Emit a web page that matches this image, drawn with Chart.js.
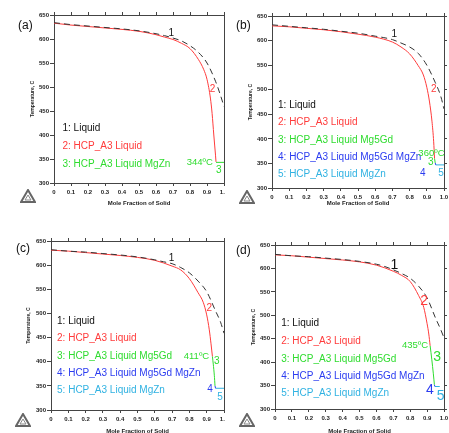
<!DOCTYPE html>
<html>
<head>
<meta charset="utf-8">
<script src="https://cdn.jsdelivr.net/npm/chart.js@4.4.1/dist/chart.umd.min.js"></script>
<style>
html, body { margin: 0; padding: 0; background: #fff; }
body { position: relative; width: 449px; height: 433px; overflow: hidden; font-family: "Liberation Sans", Arial, sans-serif; }
.panel { position: absolute; }
.panel canvas { position: absolute; left: 0; top: 0; }
.tag { position: absolute; font-size: 12px; color: #111; line-height: 12px; }
.logo { position: absolute; width: 16px; height: 14px; }
</style>
</head>
<body>
<div class="panel" style="left:0;top:0;width:225px;height:215px"><canvas id="chartA" width="225" height="215"></canvas></div>
<div class="panel" style="left:225px;top:0;width:224px;height:215px"><canvas id="chartB" width="224" height="215"></canvas></div>
<div class="panel" style="left:0;top:215px;width:225px;height:225px"><canvas id="chartC" width="225" height="225"></canvas></div>
<div class="panel" style="left:225px;top:215px;width:224px;height:225px"><canvas id="chartD" width="224" height="225"></canvas></div>

<div class="tag" style="left:18px;top:19px">(a)</div>
<div class="tag" style="left:236px;top:19px">(b)</div>
<div class="tag" style="left:16px;top:242px">(c)</div>
<div class="tag" style="left:236px;top:244px">(d)</div>

<svg class="logo" style="left:20px;top:189px" viewBox="0 0 16 14"><polygon points="8,1 15,13 1,13" fill="none" stroke="#666" stroke-width="2"/><polygon points="8,6 11,11 5,11" fill="none" stroke="#888" stroke-width="1"/></svg>
<svg class="logo" style="left:239px;top:190px" viewBox="0 0 16 14"><polygon points="8,1 15,13 1,13" fill="none" stroke="#666" stroke-width="2"/><polygon points="8,6 11,11 5,11" fill="none" stroke="#888" stroke-width="1"/></svg>
<svg class="logo" style="left:15px;top:413px" viewBox="0 0 16 14"><polygon points="8,1 15,13 1,13" fill="none" stroke="#666" stroke-width="2"/><polygon points="8,6 11,11 5,11" fill="none" stroke="#888" stroke-width="1"/></svg>
<svg class="logo" style="left:239px;top:413px" viewBox="0 0 16 14"><polygon points="8,1 15,13 1,13" fill="none" stroke="#666" stroke-width="2"/><polygon points="8,6 11,11 5,11" fill="none" stroke="#888" stroke-width="1"/></svg>

<script>
// axis ranges
const fracRange = [0, 1];
const tempRange = [300, 650];

// curve 1: Liquid (dashed), same solid-fraction grid in every panel
const liquidFrac = [0, 0.1, 0.2, 0.3, 0.4, 0.5, 0.6, 0.65, 0.7, 0.75, 0.8, 0.85, 0.9, 0.95, 0.98, 1.0];
const liquidTempA = [634, 630, 627, 624, 621, 617, 611, 607, 602, 596, 586, 572, 550, 512, 482, 459];
const liquidTempB = [632, 629, 626, 623, 619, 615, 609, 606, 602, 595, 587, 574, 550, 514, 488, 461];
const liquidTempC = [632, 629, 627, 624, 621, 617, 611, 607, 603, 595, 584, 567, 545, 506, 482, 459];
const liquidTempD = [630, 627, 625, 622, 619, 615, 609, 604, 597, 589, 579, 562, 537, 494, 470, 452];

// curve 2: HCP_A3 Liquid
const hcpFracA = [0, 0.1, 0.2, 0.3, 0.4, 0.5, 0.6, 0.65, 0.7, 0.75, 0.8, 0.85, 0.88, 0.9, 0.92, 0.93, 0.94, 0.95, 0.953];
const hcpTempA = [633, 629, 626, 623, 620, 616, 609, 604, 599, 591, 580, 557, 537, 516, 477, 445, 400, 358, 344];
const hcpFracB = [0, 0.1, 0.2, 0.3, 0.4, 0.5, 0.6, 0.7, 0.75, 0.8, 0.85, 0.88, 0.9, 0.915, 0.93, 0.94, 0.945];
const hcpTempB = [630, 628, 625, 622, 618, 613, 607, 597, 587, 573, 549, 530, 505, 477, 436, 394, 360];
const hcpFracC = [0, 0.1, 0.2, 0.3, 0.4, 0.5, 0.6, 0.7, 0.75, 0.8, 0.85, 0.88, 0.9, 0.915, 0.925, 0.933];
const hcpTempC = [631, 629, 626, 623, 620, 616, 610, 598, 590, 572, 543, 523, 497, 466, 437, 411];
const hcpFracD = [0, 0.1, 0.2, 0.3, 0.4, 0.5, 0.6, 0.7, 0.75, 0.8, 0.85, 0.88, 0.9, 0.91, 0.918];
const hcpTempD = [629, 627, 624, 621, 618, 614, 607, 594, 585, 572, 542, 517, 482, 460, 435];

// curve 3: HCP_A3 Liquid Mg5Gd (MgZn in panel a)
const mgznFracA = [0.953, 1.0];
const mgznTempA = [343, 343];
const mg5gdFracB = [0.945, 0.949];
const mg5gdTempB = [360, 351];
const mg5gdFracC = [0.933, 0.938, 0.944, 0.948];
const mg5gdTempC = [411, 395, 372, 350];
const mg5gdFracD = [0.918, 0.928, 0.937, 0.943];
const mg5gdTempD = [435, 405, 375, 352];

// curve 4: HCP_A3 Liquid Mg5Gd MgZn
const ternFracB = [0.949, 0.952];
const ternTempB = [351, 347];
const ternFracC = [0.948, 0.951];
const ternTempC = [350, 345];
const ternFracD = [0.943, 0.946];
const ternTempD = [352, 348];

// curve 5: HCP_A3 Liquid MgZn
const mgznFracB = [0.952, 1.0];
const mgznTempB = [347, 347];
const mgznFracC = [0.951, 1.0];
const mgznTempC = [345, 345];
const mgznFracD = [0.946, 0.975];
const mgznTempD = [348, 348];

const legendNames = ['1: Liquid', '2: HCP_A3 Liquid', '3: HCP_A3 Liquid Mg5Gd', '4: HCP_A3 Liquid Mg5Gd MgZn', '5: HCP_A3 Liquid MgZn'];
const legendNamesA = ['1: Liquid', '2: HCP_A3 Liquid', '3: HCP_A3 Liquid MgZn'];

const black = '#111', red = '#ff3b3b', green = '#2fdc2f', blue = '#2b3cf0', cyan = '#30b2e2';
const colorsA = [black, red, green];
const colors5 = [black, red, green, blue, cyan];
const FONT = '"Liberation Sans", Arial, sans-serif';

// draws text at data coordinates (curve labels, legend)
const notesPlugin = {
    id: 'notes',
    afterDatasetsDraw(chart, args, opts) {
        const ctx = chart.ctx;
        const sx = chart.scales.x, sy = chart.scales.y;
        ctx.save();
        (opts.items || []).forEach(n => {
            ctx.font = n.size + 'px ' + FONT;
            ctx.fillStyle = n.color;
            ctx.textAlign = n.align || 'center';
            ctx.textBaseline = 'middle';
            ctx.fillText(n.text, sx.getPixelForValue(n.x), sy.getPixelForValue(n.y));
        });
        ctx.restore();
    }
};

function line(frac, temp, color, dash) {
    return {
        data: frac.map((f, i) => ({ x: f, y: temp[i] })),
        borderColor: color,
        borderWidth: 1,
        borderDash: dash || [],
        pointRadius: 0,
        cubicInterpolationMode: 'monotone',
        fill: false
    };
}

function legendItems(names, colors, x, temps, size) {
    return names.map((t, i) => ({ text: t, x: x, y: temps[i], color: colors[i], size: size, align: 'left' }));
}

function makeChart(id, g, datasets, items) {
    const tickFont = { family: FONT, size: 6, weight: 'bold' };
    const titleFont = { family: FONT, size: 6, weight: 'bold', lineHeight: 1 };
    const frame = '#444';
    return new Chart(document.getElementById(id), {
        type: 'line',
        data: { datasets: datasets },
        plugins: [notesPlugin],
        options: {
            responsive: false,
            animation: false,
            layout: { padding: { left: 0, top: g.top - 3, right: g.padRight, bottom: 0 } },
            plugins: { legend: { display: false }, tooltip: { enabled: false }, notes: { items: items } },
            scales: {
                x: {
                    type: 'linear', position: 'bottom', min: fracRange[0], max: fracRange[1],
                    ticks: { stepSize: 0.1, autoSkip: false, maxRotation: 0, padding: 3, color: '#222', font: tickFont,
                        callback: v => (Math.abs(v) < 1e-9 ? '0' : v.toFixed(1)) },
                    grid: { drawOnChartArea: false, tickLength: 3, color: frame },
                    border: { color: frame },
                    title: { display: true, text: 'Mole Fraction of Solid', color: '#222', font: titleFont, padding: { top: 0, bottom: g.xTitlePad } },
                    afterFit: s => { s.height = g.xHeight; s.paddingLeft = 0; s.paddingRight = 0; }
                },
                x2: {
                    type: 'linear', position: 'top', min: fracRange[0], max: fracRange[1],
                    ticks: { stepSize: 0.1, display: false },
                    grid: { drawOnChartArea: false, tickLength: 3, color: frame },
                    border: { color: frame },
                    afterFit: s => { s.height = 3; s.paddingLeft = 0; s.paddingRight = 0; }
                },
                y: {
                    type: 'linear', position: 'left', min: tempRange[0], max: tempRange[1],
                    ticks: { stepSize: 50, padding: 1, color: '#222', font: tickFont },
                    grid: { drawOnChartArea: false, tickLength: 4, color: frame },
                    border: { color: frame },
                    title: { display: true, text: 'Temperature, C', color: '#222', font: { family: FONT, size: 5, weight: 'bold', lineHeight: 1 }, padding: { top: g.yTitlePad, bottom: 0 } },
                    afterFit: s => { s.width = g.left; s.paddingTop = 0; s.paddingBottom = 0; }
                },
                y2: {
                    type: 'linear', position: 'right', min: tempRange[0], max: tempRange[1],
                    ticks: { stepSize: 50, display: false },
                    grid: { drawOnChartArea: false, tickLength: 3, color: frame },
                    border: { color: frame },
                    afterFit: s => { s.width = g.y2Width; s.paddingTop = 0; s.paddingBottom = 0; }
                }
            }
        }
    });
}

// panel (a)
makeChart('chartA',
    { left: 54, top: 15, padRight: 0, y2Width: 1, xHeight: 32, xTitlePad: 8.5, yTitlePad: 30.5 },
    [
        line(liquidFrac, liquidTempA, '#333', [6, 4]),
        line(hcpFracA, hcpTempA, red),
        line(mgznFracA, mgznTempA, green)
    ],
    legendItems(legendNamesA, colorsA, 0.05, [414, 377, 340], 10).concat([
        { text: '1', x: 0.69, y: 612, color: black, size: 10 },
        { text: '2', x: 0.932, y: 495, color: red, size: 10 },
        { text: '344\u00baC', x: 0.935, y: 342, color: green, size: 9.5, align: 'right' },
        { text: '3', x: 0.969, y: 327, color: green, size: 10 }
    ])
);

// panel (b)
makeChart('chartB',
    { left: 47, top: 16, padRight: 2, y2Width: 3, xHeight: 27, xTitlePad: 9, yTitlePad: 23.2 },
    [
        line(liquidFrac, liquidTempB, '#333', [6, 4]),
        line(hcpFracB, hcpTempB, red),
        line(mg5gdFracB, mg5gdTempB, green),
        line(ternFracB, ternTempB, blue),
        line(mgznFracB, mgznTempB, cyan)
    ],
    legendItems(legendNames, colors5, 0.035, [468, 433, 398, 363, 328], 10).concat([
        { text: '1', x: 0.711, y: 612, color: black, size: 10 },
        { text: '2', x: 0.94, y: 500, color: red, size: 10 },
        { text: '360\u00baC', x: 0.927, y: 371, color: green, size: 9.5 },
        { text: '3', x: 0.923, y: 352, color: green, size: 10 },
        { text: '4', x: 0.876, y: 331, color: blue, size: 10 },
        { text: '5', x: 0.983, y: 331, color: cyan, size: 10 }
    ])
);

// panel (c)
makeChart('chartC',
    { left: 51, top: 26, padRight: 0, y2Width: 1, xHeight: 30, xTitlePad: 5.3, yTitlePad: 26.5 },
    [
        line(liquidFrac, liquidTempC, '#333', [6, 4]),
        line(hcpFracC, hcpTempC, red),
        line(mg5gdFracC, mg5gdTempC, green),
        line(ternFracC, ternTempC, blue),
        line(mgznFracC, mgznTempC, cyan)
    ],
    legendItems(legendNames, colors5, 0.035, [483, 449, 412, 376, 341], 10).concat([
        { text: '1', x: 0.697, y: 614, color: black, size: 10 },
        { text: '2', x: 0.915, y: 510, color: red, size: 10 },
        { text: '411\u00baC', x: 0.841, y: 411, color: green, size: 9.5 },
        { text: '3', x: 0.958, y: 400, color: green, size: 10 },
        { text: '4', x: 0.919, y: 342, color: blue, size: 10 },
        { text: '5', x: 0.977, y: 327, color: cyan, size: 10 }
    ])
);

// panel (d)
makeChart('chartD',
    { left: 50, top: 30, padRight: 2, y2Width: 3, xHeight: 31, xTitlePad: 6, yTitlePad: 25.8 },
    [
        line(liquidFrac, liquidTempD, '#333', [6, 4]),
        line(hcpFracD, hcpTempD, red),
        line(mg5gdFracD, mg5gdTempD, green),
        line(ternFracD, ternTempD, blue),
        line(mgznFracD, mgznTempD, cyan)
    ],
    legendItems(legendNames, colors5, 0.037, [483, 445, 407, 370, 334], 10).concat([
        { text: '1', x: 0.706, y: 607, color: black, size: 14 },
        { text: '2', x: 0.882, y: 531, color: red, size: 14 },
        { text: '435\u00baC', x: 0.829, y: 435, color: green, size: 9.5 },
        { text: '3', x: 0.96, y: 410, color: green, size: 14 },
        { text: '4', x: 0.917, y: 341, color: blue, size: 14 },
        { text: '5', x: 0.98, y: 327, color: cyan, size: 14 }
    ])
);
</script>
</body>
</html>
